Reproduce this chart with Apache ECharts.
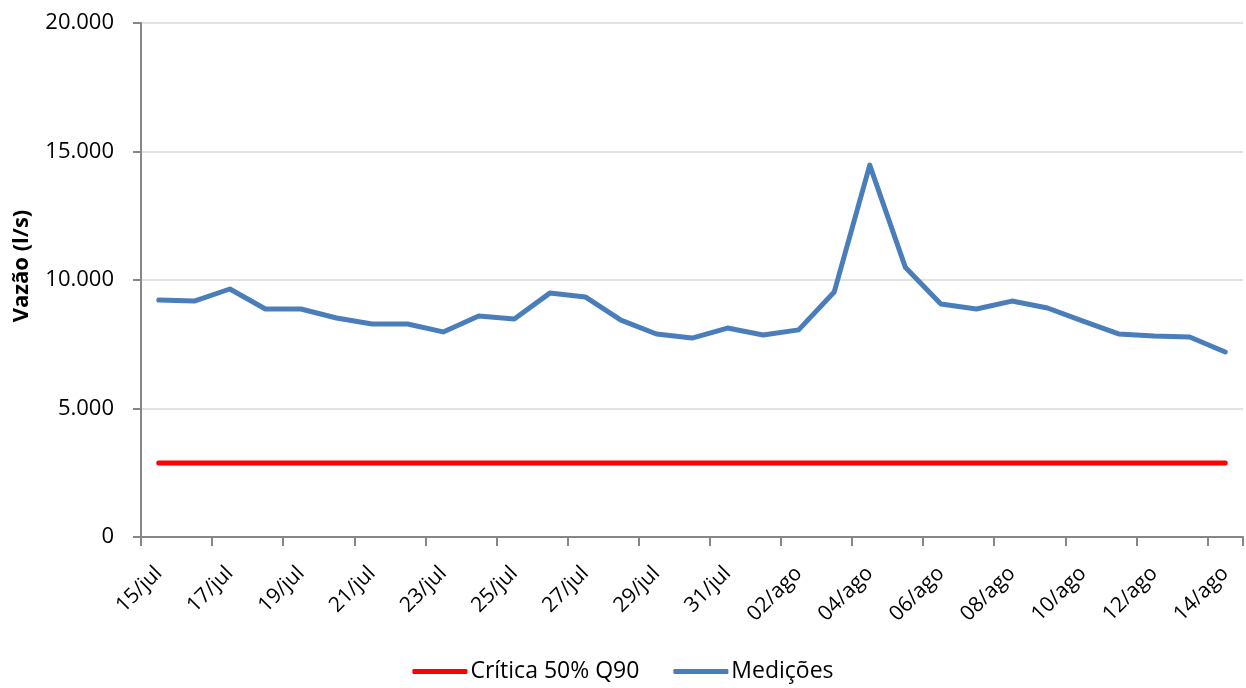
<!DOCTYPE html>
<html>
<head>
<meta charset="utf-8">
<script src="https://cdn.jsdelivr.net/npm/echarts@6/dist/echarts.min.js"></script>
<style>html,body{margin:0;padding:0;background:#fff;}#c{width:1246px;height:688px;}</style>
</head>
<body>
<div id="c"></div>
<script>
const categories = ['15/jul','16/jul','17/jul','18/jul','19/jul','20/jul','21/jul','22/jul','23/jul','24/jul','25/jul','26/jul','27/jul','28/jul','29/jul','30/jul','31/jul','01/ago','02/ago','03/ago','04/ago','05/ago','06/ago','07/ago','08/ago','09/ago','10/ago','11/ago','12/ago','13/ago','14/ago'];
const medicoes = [9220,9180,9650,8870,8870,8520,8290,8290,7980,8600,8480,9490,9340,8440,7900,7740,8130,7860,8060,9530,14470,10500,9070,8870,9180,8910,8400,7900,7820,7780,7200];
const criticaValue = 2880;
const critica = categories.map(() => criticaValue);
const yTicks = { min: 0, max: 20000, interval: 5000 };

const font = '"Open Sans", Lato, sans-serif';
const chart = echarts.init(document.getElementById('c'), null, { renderer: 'canvas' });
chart.setOption({
  animation: false,
  textStyle: { fontFamily: font },
  grid: { left: 141, right: 3, top: 23, bottom: 151, containLabel: false },
  legend: {
    bottom: 0,
    left: 'center',
    itemWidth: 55,
    itemHeight: 5,
    itemGap: 34,
    icon: 'roundRect',
    textStyle: { fontSize: 23, color: '#000', fontFamily: font, padding: [0, 0, 0, -2] },
    data: ['Crítica 50% Q90', 'Medições']
  },
  xAxis: {
    type: 'category',
    data: categories,
    boundaryGap: true,
    axisLine: { lineStyle: { color: '#868686', width: 2 } },
    axisTick: { show: true, interval: 1, length: 9, lineStyle: { color: '#868686', width: 2 } },
    axisLabel: { interval: 1, rotate: 45, fontSize: 21, color: '#000', margin: 33, fontFamily: font }
  },
  yAxis: {
    type: 'value',
    min: yTicks.min, max: yTicks.max, interval: yTicks.interval,
    name: 'Vazão (l/s)',
    nameLocation: 'middle',
    nameGap: 108,
    nameTextStyle: { fontSize: 22, fontWeight: 'bold', color: '#000', fontFamily: font, padding: [0, 0, 0, 28] },
    axisLine: { show: true, lineStyle: { color: '#868686', width: 2 } },
    axisTick: { show: true, length: 8, lineStyle: { color: '#868686', width: 2 } },
    splitLine: { lineStyle: { color: '#d9d9d9', width: 1.5 } },
    axisLabel: {
      fontSize: 22, color: '#000', margin: 27, fontFamily: font,
      formatter: v => String(v).replace(/\B(?=(\d{3})+(?!\d))/g, '.')
    }
  },
  series: [
    {
      name: 'Crítica 50% Q90', type: 'line', data: critica,
      symbol: 'none', lineStyle: { color: '#ff0000', width: 5, cap: 'round' },
      itemStyle: { color: '#ff0000' }
    },
    {
      name: 'Medições', type: 'line', data: medicoes,
      symbol: 'none', lineStyle: { color: '#4a7ebb', width: 5, cap: 'round', join: 'round' },
      itemStyle: { color: '#4a7ebb' }
    }
  ]
});
</script>
</body>
</html>
